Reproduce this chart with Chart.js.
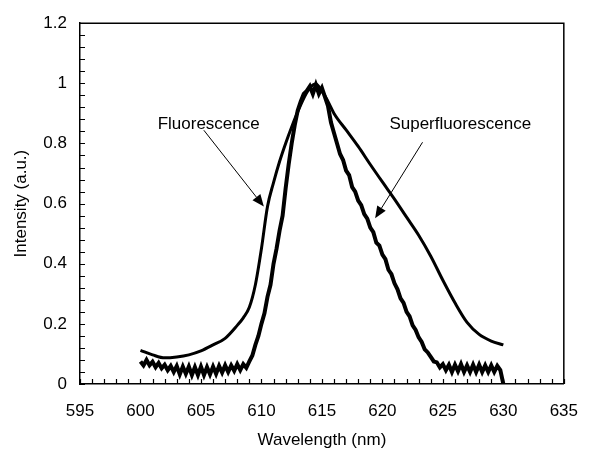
<!DOCTYPE html>
<html>
<head>
<meta charset="utf-8">
<script src="https://cdn.jsdelivr.net/npm/chart.js@4"></script>
<style>
  html, body { margin: 0; padding: 0; background: #fff; }
  #wrap { width: 595px; height: 452px; }
</style>
</head>
<body>
<div id="wrap"><canvas id="myChart" width="595" height="452"></canvas></div>
<script>
// data
const fluoX = [600, 601, 602, 603, 604, 605, 606, 607, 608, 608.5, 609, 609.5, 610, 610.5, 611, 611.5, 612, 612.5,
  613, 613.5, 614, 614.5, 615, 615.5, 616, 617, 618, 619, 620, 621, 622, 623, 624, 625, 626, 627, 628, 629, 630];
const fluoY = [0.112, 0.097, 0.087, 0.09, 0.097, 0.11, 0.13, 0.152, 0.195, 0.22, 0.255, 0.33, 0.45, 0.59, 0.67, 0.74, 0.8, 0.855,
  0.905, 0.95, 0.985, 0.998, 0.975, 0.94, 0.9, 0.845, 0.79, 0.73, 0.672, 0.615, 0.555, 0.495, 0.425, 0.345, 0.27, 0.205, 0.165, 0.143, 0.13];

// superfluorescence sampled every 0.25 nm from 600 to 630
const superStart = 600;
const superStep = 0.25;
const superY = [
  0.075, 0.062, 0.08, 0.062,
  0.074, 0.056, 0.07, 0.052,
  0.064, 0.046, 0.06, 0.04,
  0.06, 0.032, 0.058, 0.034,
  0.058, 0.03, 0.056, 0.03,
  0.058, 0.03, 0.056, 0.032,
  0.058, 0.034, 0.06, 0.038,
  0.062, 0.04, 0.062, 0.044,
  0.066, 0.046, 0.066, 0.054,
  0.075, 0.095, 0.13, 0.16,
  0.2, 0.235, 0.29, 0.33,
  0.4, 0.45, 0.51, 0.56,
  0.65, 0.73, 0.8, 0.86,
  0.91, 0.94, 0.965, 0.975,
  0.99, 0.965, 0.995, 0.965,
  0.985, 0.955, 0.925, 0.87,
  0.835, 0.8, 0.765, 0.745,
  0.71, 0.695, 0.655, 0.64,
  0.61, 0.595, 0.565, 0.55,
  0.52, 0.505, 0.47, 0.46,
  0.43, 0.415, 0.38, 0.365,
  0.335, 0.315, 0.285, 0.27,
  0.24, 0.225, 0.195, 0.18,
  0.155, 0.14, 0.115, 0.105,
  0.09, 0.075, 0.072, 0.055,
  0.066, 0.046, 0.064, 0.04,
  0.064, 0.042, 0.066, 0.04,
  0.062, 0.04, 0.064, 0.04,
  0.064, 0.04, 0.062, 0.04,
  0.062, 0.04, 0.06, 0.046,
  0
];

const xMin = 595, xMax = 635, xStep = 5, xMinor = 1;
const yMin = 0, yMax = 1.2, yStep = 0.2, yMinor = 0.04;

// text labels with arrows, in data coordinates
const notes = [
  { text: "Fluorescence", x: 605.64, y: 0.864, from: [605.24, 0.844], to: [610.2, 0.59] },
  { text: "Superfluorescence", x: 626.44, y: 0.864, from: [623.32, 0.804], to: [619.4, 0.551] },
];

const FONT = "'Liberation Sans', Arial, sans-serif";

const fluoPoints = fluoX.map((x, i) => ({ x: x, y: fluoY[i] }));
const superPoints = superY.map((y, i) => ({ x: superStart + i * superStep, y: y }));

const extras = {
  id: "extras",
  afterDraw(chart) {
    const ctx = chart.ctx;
    const xs = chart.scales.x;
    const ys = chart.scales.y;
    const a = chart.chartArea;
    ctx.save();
    ctx.strokeStyle = "#000";
    ctx.lineWidth = 1.5;
    // frame top and right
    ctx.beginPath();
    ctx.moveTo(a.left, a.top);
    ctx.lineTo(a.right, a.top);
    ctx.lineTo(a.right, a.bottom);
    ctx.stroke();
    // inward ticks
    ctx.lineWidth = 1.2;
    ctx.beginPath();
    for (let v = xMin; v <= xMax + 0.001; v += xMinor) {
      const px = Math.round(xs.getPixelForValue(v)) + 0.5;
      ctx.moveTo(px, a.bottom);
      ctx.lineTo(px, a.bottom - 5);
    }
    for (let k = 0; k * yMinor <= yMax + 0.0001; k++) {
      const py = Math.round(ys.getPixelForValue(k * yMinor)) + 0.5;
      ctx.moveTo(a.left, py);
      ctx.lineTo(a.left + 5, py);
    }
    ctx.stroke();
    // notes
    ctx.fillStyle = "#000";
    ctx.font = "17px " + FONT;
    ctx.textAlign = "center";
    ctx.textBaseline = "middle";
    notes.forEach(n => {
      ctx.fillText(n.text, xs.getPixelForValue(n.x), ys.getPixelForValue(n.y));
      const x1 = xs.getPixelForValue(n.from[0]), y1 = ys.getPixelForValue(n.from[1]);
      const x2 = xs.getPixelForValue(n.to[0]), y2 = ys.getPixelForValue(n.to[1]);
      const ang = Math.atan2(y2 - y1, x2 - x1);
      const hl = 12, hw = 5;
      ctx.lineWidth = 1;
      ctx.beginPath();
      ctx.moveTo(x1, y1);
      ctx.lineTo(x2 - hl * Math.cos(ang), y2 - hl * Math.sin(ang));
      ctx.stroke();
      ctx.beginPath();
      ctx.moveTo(x2, y2);
      ctx.lineTo(x2 - hl * Math.cos(ang) + hw * Math.sin(ang), y2 - hl * Math.sin(ang) - hw * Math.cos(ang));
      ctx.lineTo(x2 - hl * Math.cos(ang) - hw * Math.sin(ang), y2 - hl * Math.sin(ang) + hw * Math.cos(ang));
      ctx.closePath();
      ctx.fill();
    });
    ctx.restore();
  },
};

const ctx = document.getElementById("myChart").getContext("2d");
const myChart = new Chart(ctx, {
  type: "scatter",
  data: {
    datasets: [
      {
        label: "Fluorescence",
        data: fluoPoints,
        showLine: true,
        borderColor: "#000",
        borderWidth: 3,
        pointRadius: 0,
        cubicInterpolationMode: "monotone",
      },
      {
        label: "Superfluorescence",
        data: superPoints,
        showLine: true,
        borderColor: "#000",
        borderWidth: 4,
        pointRadius: 0,
        tension: 0,
      },
    ],
  },
  options: {
    responsive: false,
    animation: false,
    layout: { padding: { top: 20, right: 15, left: 0, bottom: 0 } },
    plugins: { legend: { display: false }, tooltip: { enabled: false } },
    scales: {
      x: {
        type: "linear",
        min: xMin,
        max: xMax,
        afterFit(scale) { scale.height = 68; },
        ticks: { stepSize: xStep, color: "#000", padding: 17, font: { size: 17, family: FONT } },
        grid: { display: false, drawTicks: false },
        border: { display: true, color: "#000", width: 1.5 },
        title: { display: true, text: "Wavelength (nm)", color: "#000", font: { size: 17, family: FONT }, padding: { top: 1, bottom: 1 } },
      },
      y: {
        min: yMin,
        max: yMax,
        afterFit(scale) { scale.width = 80; },
        ticks: {
          stepSize: yStep, color: "#000", padding: 13, font: { size: 17, family: FONT },
          callback: v => String(Math.round(v * 10) / 10),
        },
        grid: { display: false, drawTicks: false },
        border: { display: true, color: "#000", width: 1.5 },
        title: { display: true, text: "Intensity (a.u.)", color: "#000", font: { size: 17, family: FONT }, padding: { top: 11, bottom: 0 } },
      },
    },
  },
  plugins: [extras],
});
</script>
</body>
</html>
